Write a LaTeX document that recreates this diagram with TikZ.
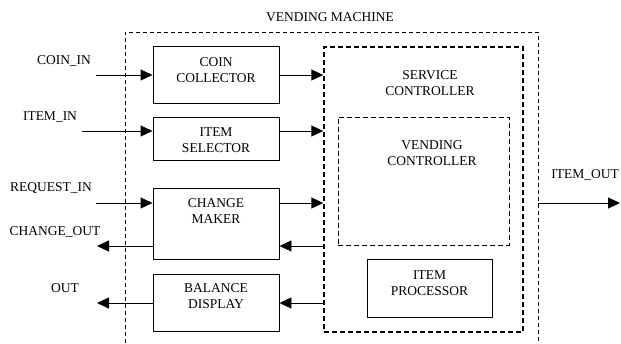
\documentclass[tikz,border=0pt]{standalone}
\usepackage{fontspec}
\setmainfont{Liberation Serif}
\usetikzlibrary{arrows.meta}
\begin{document}
\begin{tikzpicture}[x=1pt,y=-1pt,
  every node/.style={font=\fontsize{13.5}{16}\selectfont, inner sep=0pt, align=center},
  blockbox/.style={draw, line width=0.9pt, inner sep=0pt},
  outerframe/.style={line width=0.8pt, dash pattern=on 4pt off 3pt},
  ctrlframe/.style={draw, line width=1.4pt, dash pattern=on 5pt off 3pt},
  vendframe/.style={draw, line width=1.0pt, dash pattern=on 5pt off 3pt},
  sig/.style={line width=0.9pt, -{Triangle[length=12pt,width=11pt]}}]
\useasboundingbox (0,0) rectangle (621,343);

% enclosing frame of the whole machine (open at the bottom)
\draw[outerframe] (125,343) -- (125,32) -- (538,32) -- (538,343);
\node (title) at (330,17) {VENDING MACHINE};

% functional blocks on the left
\node[blockbox, minimum width=126pt, minimum height=57pt] (coin) at (216,74.5) {};
\node at (216,70) {COIN\\COLLECTOR};
\node[blockbox, minimum width=126pt, minimum height=43pt] (sel) at (216,138.5) {};
\node at (216,140) {ITEM\\SELECTOR};
\node[blockbox, minimum width=126pt, minimum height=71pt] (chg) at (216,223.5) {};
\node at (216,211.5) {CHANGE\\MAKER};
\node[blockbox, minimum width=126pt, minimum height=57pt] (bal) at (216,302.5) {};
\node at (216,296.5) {BALANCE\\DISPLAY};

% service controller with its nested parts
\node[ctrlframe, minimum width=199pt, minimum height=285pt] (svc) at (423.5,189.5) {};
\node at (430,83) {SERVICE\\CONTROLLER};
\node[vendframe, minimum width=171pt, minimum height=128pt] (vend) at (423.5,181) {};
\node at (432,153.5) {VENDING\\CONTROLLER};
\node[blockbox, minimum width=125pt, minimum height=58pt] (proc) at (429.5,288) {};
\node at (429.5,283.5) {ITEM\\PROCESSOR};

% external signal labels and free ends
\node (lcoin) at (64,61) {COIN\_IN};
\node (litem) at (50,117) {ITEM\_IN};
\node (lreq) at (51,188) {REQUEST\_IN};
\node (lchg) at (55,232) {CHANGE\_OUT};
\node (lout) at (65,288) {OUT};
\node (litemout) at (585,175) {ITEM\_OUT};
\coordinate (pcoin) at (96,75);
\coordinate (pitem) at (82,131);
\coordinate (preq) at (96,203);
\coordinate (pchg) at (97,246);
\coordinate (pout) at (97,303);
\coordinate (pio0) at (538,203);
\coordinate (pio1) at (620,203);

% inputs into the blocks
\draw[sig] (pcoin) -- (pcoin -| coin.west);
\draw[sig] (pitem) -- (pitem -| sel.west);
\draw[sig] (preq) -- (preq -| chg.west);
% outputs from the blocks
\draw[sig] (pchg -| chg.west) -- (pchg);
\draw[sig] (pout -| bal.west) -- (pout);
% blocks to and from the service controller
\draw[sig] (pcoin -| coin.east) -- (pcoin -| svc.west);
\draw[sig] (pitem -| sel.east) -- (pitem -| svc.west);
\draw[sig] (preq -| chg.east) -- (preq -| svc.west);
\draw[sig] (pchg -| svc.west) -- (pchg -| chg.east);
\draw[sig] (pout -| svc.west) -- (pout -| bal.east);
% machine output
\draw[sig] (pio0) -- (pio1);
\end{tikzpicture}
\end{document}
